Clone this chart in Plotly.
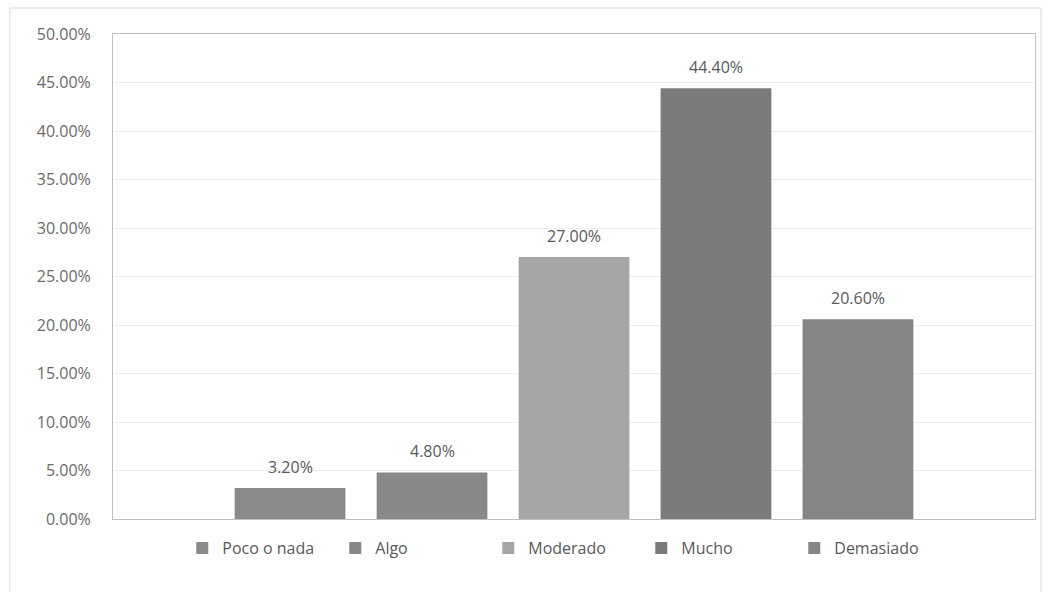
import plotly.graph_objects as go

series_names = ["Poco o nada", "Algo", "Moderado", "Mucho", "Demasiado"]
values = [0.032, 0.048, 0.270, 0.444, 0.206]
value_labels = ["3.20%", "4.80%", "27.00%", "44.40%", "20.60%"]
bar_colors = ["#8a8a8a", "#888888", "#a6a6a6", "#7b7b7b", "#858585"]
category = ["Total"]

W, H = 1055, 592
ML, MR, MT, MB = 113, 20, 34, 73
BARGAP = 0.23
FONT = "Open Sans"
plot_w = W - ML - MR
slot = plot_w * (1 - BARGAP) / len(series_names)

fig = go.Figure()
annotations = []
n = len(series_names)
for i, (name, v, lab, col) in enumerate(zip(series_names, values, value_labels, bar_colors)):
    fig.add_trace(go.Bar(
        name=name, x=category, y=[v],
        marker=dict(color=col, line=dict(width=0)),
    ))
    annotations.append(dict(
        x=category[0], y=v, xref="x", yref="y", text=lab, showarrow=False,
        xshift=(i - (n - 1) / 2) * slot, yshift=8, yanchor="bottom",
        font=dict(size=16, color="#595959", family=FONT),
    ))

fig.update_layout(
    width=W, height=H,
    margin=dict(l=ML, r=MR, t=MT, b=MB),
    paper_bgcolor="white", plot_bgcolor="white",
    barmode="group", bargap=BARGAP, bargroupgap=0.22,
    font=dict(family=FONT, size=16, color="#595959"),
    showlegend=True,
    legend=dict(orientation="h", x=0.49, xanchor="center", y=-0.025, yanchor="top",
                font=dict(size=16, color="#595959", family=FONT), itemwidth=30,
                entrywidth=108, entrywidthmode="pixels",
                traceorder="normal"),
    xaxis=dict(showticklabels=False, showgrid=False, zeroline=False,
               showline=True, linecolor="#bfbfbf", linewidth=1, mirror=True, ticks=""),
    yaxis=dict(range=[0, 0.5], dtick=0.05, tickformat=".2%",
               showgrid=True, gridcolor="#ededed", gridwidth=1,
               zeroline=False, showline=True, linecolor="#bfbfbf", linewidth=1, mirror=True,
               ticks="", ticklabelstandoff=18, tickfont=dict(size=16, color="#6a6a6a", family=FONT)),
    annotations=annotations,
    shapes=[dict(type="rect", xref="paper", yref="paper",
                 x0=-103 / plot_w, x1=(1041 - ML) / plot_w, y0=-80 / 485, y1=1 + 26 / 485,
                 line=dict(color="#d9d9d9", width=1), fillcolor="rgba(0,0,0,0)", layer="below")],
)

fig.write_html("out.html")
